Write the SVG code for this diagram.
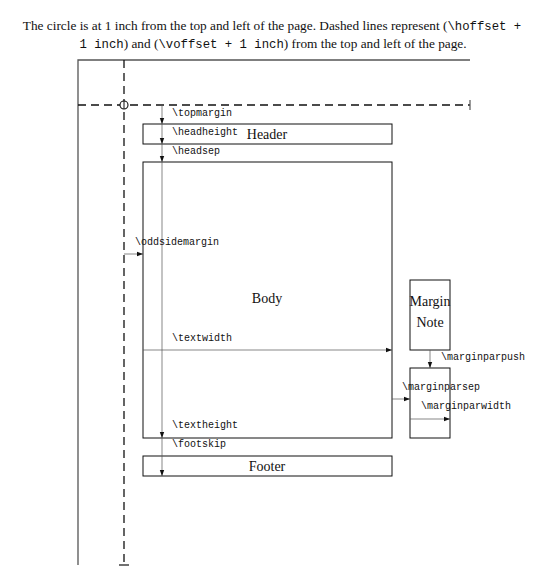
<svg xmlns="http://www.w3.org/2000/svg" width="546" height="577" viewBox="0 0 546 577">
<style>
.cap{font-family:"Liberation Serif","Times New Roman",serif;font-size:13.3px;fill:#111}
.cap tspan.m{font-family:"Liberation Mono","Courier New",monospace;font-size:12.3px}
.lbl{font-family:"Liberation Mono","Courier New",monospace;font-size:10px;fill:#111}
.big{font-family:"Liberation Serif","Times New Roman",serif;font-size:14px;fill:#111;text-anchor:middle}
.box{fill:none;stroke:#111;stroke-width:1}
.page{fill:none;stroke:#555;stroke-width:1.3}
.dash{fill:none;stroke:#111;stroke-width:1.3;stroke-dasharray:8 5}
.arr{fill:none;stroke:#555;stroke-width:0.7;marker-end:url(#ah)}
</style>
<defs>
<marker id="ah" viewBox="0 0 6 6" refX="6" refY="3" markerWidth="6" markerHeight="6" markerUnits="userSpaceOnUse" orient="auto">
<path d="M0,0.8 L6,3 L0,5.2 Z" fill="#111"/>
</marker>
</defs>
<g id="caption">
<text class="cap" x="272" y="30" text-anchor="middle">The circle is at 1 inch from the top and left of the page. Dashed lines represent (<tspan class="m">\hoffset +</tspan></text>
<text class="cap" x="273" y="48" text-anchor="middle"><tspan class="m">1 inch</tspan>) and (<tspan class="m">\voffset + 1 inch</tspan>) from the top and left of the page.</text>
</g>
<g id="page">
<path class="page" d="M78,565 L78,60 L470,60"/>
</g>
<g id="offsets">
<path class="dash" d="M124,60 L124,565"/>
<path class="dash" d="M78,105 L470,105"/>
<path stroke="#111" stroke-width="1.2" d="M119,565 L129,565"/>
<path stroke="#555" stroke-width="1.2" d="M470,100 L470,110"/>
<circle cx="124" cy="105" r="4" fill="#fff" stroke="#111" stroke-width="1.1"/>
<path stroke="#111" stroke-width="1" d="M124,101 L124,109"/>
</g>
<g id="header">
<rect class="box" x="143" y="124" width="249" height="20"/>
<text class="big" x="267" y="139">Header</text>
</g>
<g id="body">
<rect class="box" x="143" y="162" width="249" height="276"/>
<text class="big" x="267" y="303">Body</text>
</g>
<g id="footer">
<rect class="box" x="143" y="456" width="249" height="20"/>
<text class="big" x="267" y="471">Footer</text>
</g>
<g id="marginnote">
<rect class="box" x="410" y="280" width="40" height="70"/>
<text class="big" x="430" y="306">Margin</text>
<text class="big" x="430" y="327">Note</text>
</g>
<g id="marginbox">
<rect class="box" x="410" y="368" width="40" height="70"/>
</g>
<g id="connectors">
<path class="arr" d="M162,105 L162,124"/>
<path class="arr" d="M162,124 L162,144"/>
<path class="arr" d="M162,144 L162,162"/>
<path class="arr" d="M162,162 L162,438"/>
<path class="arr" d="M162,438 L162,476"/>
<path class="arr" d="M124,254 L143,254"/>
<path class="arr" d="M143,350 L392,350"/>
<path class="arr" d="M430,350 L430,368"/>
<path class="arr" d="M392,399 L410,399"/>
<path class="arr" d="M410,419 L450,419"/>
</g>
<g id="labels">
<text class="lbl" x="172" y="116">\topmargin</text>
<text class="lbl" x="172" y="135">\headheight</text>
<text class="lbl" x="172" y="154">\headsep</text>
<text class="lbl" x="135" y="245">\oddsidemargin</text>
<text class="lbl" x="172" y="341">\textwidth</text>
<text class="lbl" x="441" y="360">\marginparpush</text>
<text class="lbl" x="402" y="390">\marginparsep</text>
<text class="lbl" x="421" y="409">\marginparwidth</text>
<text class="lbl" x="172" y="428">\textheight</text>
<text class="lbl" x="172" y="447">\footskip</text>
</g>
</svg>
